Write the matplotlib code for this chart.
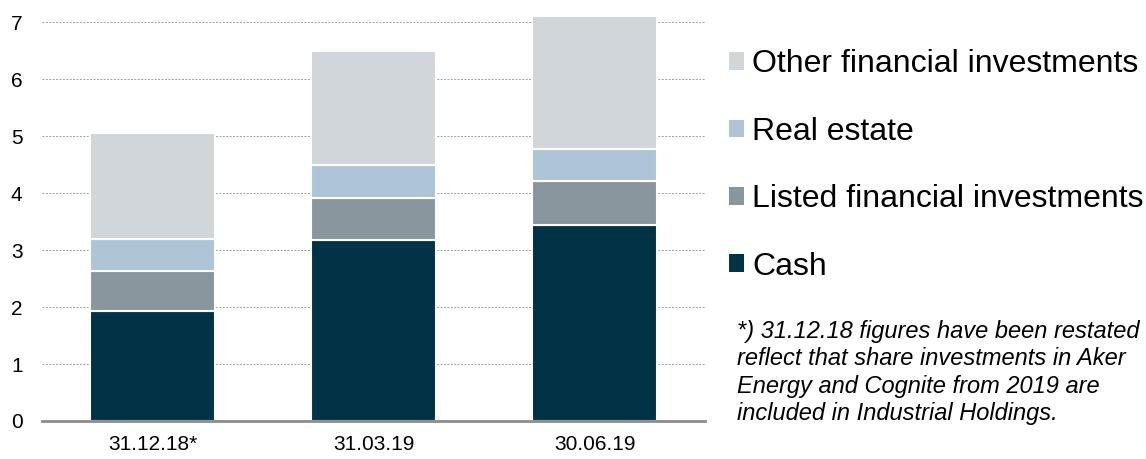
import matplotlib
matplotlib.use("Agg")
import matplotlib.pyplot as plt
from matplotlib.patches import Patch

plt.rcParams['font.family'] = ['Liberation Sans', 'DejaVu Sans']

# Holdings per reporting date (NOK bn)
dates = ['31.12.18*', '31.03.19', '30.06.19']
cash = [1.93, 3.18, 3.44]
listed = [0.70, 0.73, 0.77]
real_estate = [0.56, 0.58, 0.56]
other = [1.86, 2.00, 2.33]

series = [
    ('Cash', cash, '#023246'),
    ('Listed financial investments', listed, '#8a969e'),
    ('Real estate', real_estate, '#aec5d8'),
    ('Other financial investments', other, '#d0d6da'),
]

fig = plt.figure(figsize=(11.46, 4.59), dpi=100)
ax = fig.add_axes([0.0367, 0.0828, 0.5785, 0.894])

x = range(len(dates))
bottom = [0.0] * len(dates)
for name, vals, color in series:
    ax.bar(x, vals, bottom=bottom, width=0.566, color=color,
           edgecolor='white', linewidth=1.5, zorder=3)
    bottom = [b + v for b, v in zip(bottom, vals)]

ax.set_xlim(-0.5, 2.5)
ax.set_ylim(0, 7.2)
ax.set_yticks(range(0, 8))
ax.set_xticks(list(x))
ax.set_xticklabels(dates)
ax.tick_params(axis='y', length=0, pad=14, labelsize=15)
ax.tick_params(axis='x', length=0, pad=10, labelsize=15)

ax.grid(axis='y', linestyle=(0, (2, 1.5)), color='#a0a0a0', linewidth=0.7, zorder=0)
for s in ['top', 'right', 'left']:
    ax.spines[s].set_visible(False)
ax.spines['bottom'].set_color('#8c8c8c')
ax.spines['bottom'].set_linewidth(2)
ax.spines['bottom'].set_zorder(4)

handles = [Patch(facecolor=c, edgecolor='none', label=n) for n, _, c in series][::-1]
fig.legend(handles=handles, loc='upper left', bbox_to_anchor=(0.625, 0.92),
           frameon=False, fontsize=23, handlelength=0.47, handleheight=0.47,
           handletextpad=0.25, labelspacing=1.17, borderaxespad=0)

note = ("*) 31.12.18 figures have been restated\n"
        "reflect that share investments in Aker\n"
        "Energy and Cognite from 2019 are\n"
        "included in Industrial Holdings.")
fig.text(0.643, 0.303, note, fontsize=17, style='italic', va='top',
         ha='left', linespacing=1.24)

fig.savefig('out.png', dpi=100)
